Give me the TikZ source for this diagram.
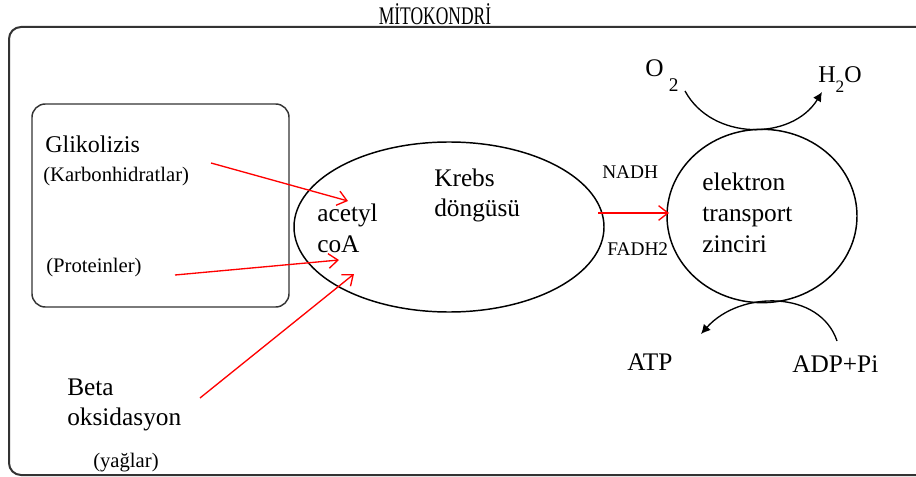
\documentclass[tikz,border=0pt]{standalone}
\usepackage{fontspec}
\setmainfont{Liberation Serif}
\usetikzlibrary{shapes.geometric,arrows.meta,positioning}

\begin{document}
\begin{tikzpicture}[x=0.75pt,y=-0.75pt]
% styles
\tikzstyle{txt} = [inner sep=0pt, anchor=base west, align=left, font=\fontsize{19}{23}\selectfont]
\tikzstyle{small} = [txt, font=\fontsize{15.5}{19}\selectfont]
\tikzstyle{tiny} = [txt, font=\fontsize{14.5}{17}\selectfont]
\tikzstyle{kap} = [draw, ellipse, line width=1.1pt, inner sep=0pt]
\tikzstyle{kirmizi} = [red, line width=1pt, -{Straight Barb[length=7pt,width=11pt]}]
\tikzstyle{dongu} = [line width=1pt, -{Latex[length=7pt,width=7pt]}]

\path[use as bounding box] (0,0) rectangle (916,477);
\clip (0,0) rectangle (916,477);

% outer membrane + title
\draw[line width=1.5pt, rounded corners=9pt, black!80] (9,27) rectangle (940,475);
\node (mito) at (435,25) [anchor=base, inner sep=0pt, font=\fontsize{19}{22}\selectfont] {\scalebox{0.69}[1]{MİTOKONDRİ}};

% sources
\draw[line width=1.1pt, rounded corners=10pt, black!80] (32,104) rectangle (289,307);
\node (glikoliz) at (45,153) [txt, font=\fontsize{18}{22}\selectfont] {Glikolizis};
\node (karbon) at (43,182) [small] {(Karbonhidratlar)};
\node (protein) at (46,272) [small] {(Proteinler)};
\node (beta) at (67,425) [txt, font=\fontsize{19}{22}\selectfont] {Beta\\oksidasyon};
\node (yag) at (93,467) [small] {(yağlar)};

% krebs
\node (krebs) at (449,227) [kap, minimum width=232.5pt, minimum height=127.5pt] {};
\node (krebsyazi) at (434,217) [txt] {Krebs\\döngüsü};
\node (asetil) at (317,252) [txt, font=\fontsize{19}{22.5}\selectfont] {acetyl\\coA};
\node (nadh) at (602,179) [tiny] {NADH};
\node (fadh) at (607,255) [tiny] {FADH2};

% electron transport chain
\node (etz) at (762,216) [kap, minimum width=142.5pt, minimum height=130pt] {};
\node (etzyazi) at (702,252) [txt] {elektron\\transport\\zinciri};
\node (oksijen) at (645,77) [txt] {O\hspace{4pt}\raisebox{-11pt}{\fontsize{14.5}{17}\selectfont 2}};
\node (su) at (818,83) [txt, font=\fontsize{18}{22}\selectfont] {H\raisebox{-7.5pt}{\fontsize{13}{15}\selectfont 2}O};
\node (atp) at (627,370) [txt] {ATP};
\node (adp) at (792,372) [txt] {ADP+Pi};

% red arrows
\coordinate (g1) at (211,163); \coordinate (a1) at (348,201);
\coordinate (p1) at (175,275); \coordinate (a2) at (339,260);
\coordinate (b1) at (200,398); \coordinate (a3) at (354,274);
\coordinate (k1) at (598,213); \coordinate (e1) at (669,213);
\draw[kirmizi] (g1) -- (a1);
\draw[kirmizi] (p1) -- (a2);
\draw[kirmizi] (b1) -- (a3);
\draw[kirmizi] (k1) -- (e1);

% O2 -> H2O and ADP -> ATP
\coordinate (o2uc) at (685,91); \coordinate (h2ouc) at (822,92);
\coordinate (adpuc) at (837,341); \coordinate (atpuc) at (701,334);
\draw[dongu] (o2uc) .. controls (712,141) and (792,141) .. (h2ouc);
\draw[dongu] (adpuc) .. controls (820,290) and (740,290) .. (atpuc);
\end{tikzpicture}
\end{document}
